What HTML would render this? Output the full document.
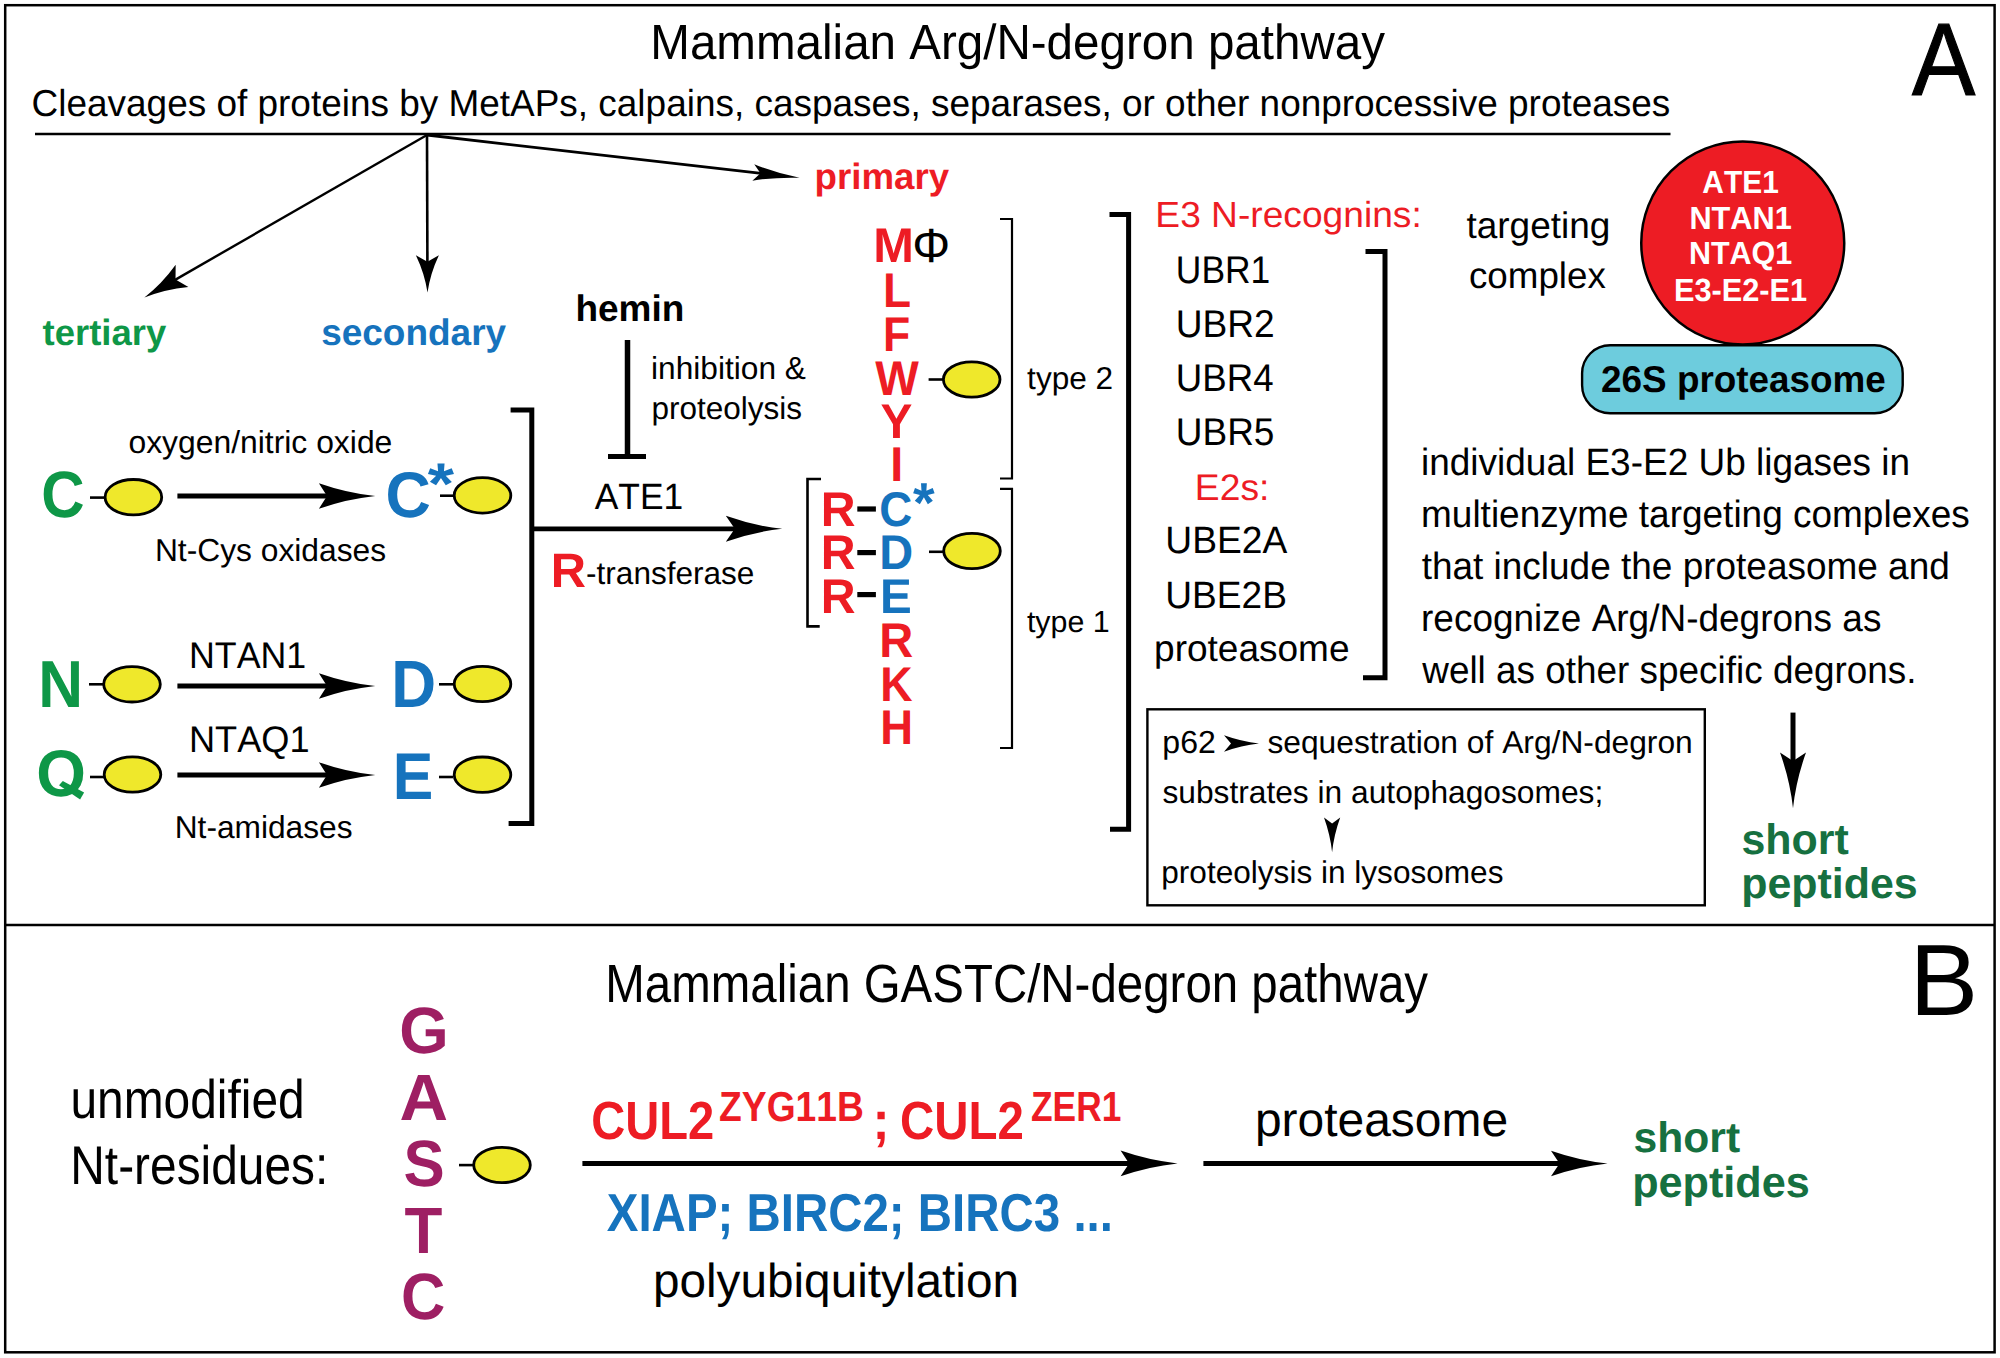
<!DOCTYPE html>
<html><head><meta charset="utf-8"><style>
html,body{margin:0;padding:0;background:#fff;}
svg{display:block;}
text{font-family:"Liberation Sans",sans-serif;font-kerning:none;text-rendering:geometricPrecision;}
</style></head><body>
<svg width="2000" height="1358" viewBox="0 0 2000 1358">
<rect width="2000" height="1358" fill="#fff"/>
<rect x="5.2" y="5.2" width="1989.4" height="1347.1" fill="none" stroke="#000" stroke-width="2.5"/>
<line x1="5" y1="925" x2="1995" y2="925" stroke="#000" stroke-width="2.5"/>
<text transform="translate(650.30 59.10) scale(0.9627 1)" font-size="49.40" font-weight="400" fill="#000">Mammalian Arg/N-degron pathway</text>
<text transform="translate(1911.91 94.80) scale(0.9219 1)" font-size="102.90" font-weight="400" fill="#000" stroke="#000" stroke-width="1.2">A</text>
<text transform="translate(31.62 115.50) scale(0.9831 1)" font-size="37.60" font-weight="400" fill="#000">Cleavages of proteins by MetAPs, calpains, caspases, separases, or other nonprocessive proteases</text>
<line x1="35" y1="134" x2="1670.5" y2="134" stroke="#000" stroke-width="2.6"/>
<line x1="427" y1="135" x2="172.92" y2="281.10" stroke="#000" stroke-width="2.4"/>
<path d="M144.40,297.50 Q161.75,284.14 175.67,264.81 L175.52,279.60 L188.38,286.92 Q164.67,289.23 144.40,297.50 Z" fill="#000"/>
<line x1="427" y1="135" x2="427.41" y2="264.70" stroke="#000" stroke-width="2.6"/>
<path d="M427.50,292.60 Q424.80,273.91 415.88,255.24 L427.40,261.70 L438.88,255.16 Q430.09,273.89 427.50,292.60 Z" fill="#000"/>
<line x1="427" y1="135" x2="763.44" y2="173.65" stroke="#000" stroke-width="2.8"/>
<path d="M799.60,177.80 Q776.24,177.01 752.37,180.63 L760.46,173.30 L754.24,164.34 Q776.67,173.27 799.60,177.80 Z" fill="#000"/>
<text x="814.58" y="188.75" font-size="36.70" font-weight="700" fill="#ED1C24">primary</text>
<text x="42.55" y="345.00" font-size="36.47" font-weight="700" fill="#0E9747">tertiary</text>
<text x="321.20" y="345.00" font-size="36.98" font-weight="700" fill="#1673BD">secondary</text>
<text x="575.42" y="321.30" font-size="36.97" font-weight="700" fill="#000">hemin</text>
<text x="651.08" y="378.70" font-size="31.67" font-weight="400" fill="#000">inhibition &amp;</text>
<text x="651.47" y="418.50" font-size="31.52" font-weight="400" fill="#000">proteolysis</text>
<line x1="627.5" y1="340" x2="627.5" y2="456.5" stroke="#000" stroke-width="5.5"/>
<line x1="608" y1="456.5" x2="646" y2="456.5" stroke="#000" stroke-width="5"/>
<text x="128.46" y="453.20" font-size="31.86" font-weight="400" fill="#000">oxygen/nitric oxide</text>
<text x="154.89" y="560.70" font-size="31.77" font-weight="400" fill="#000">Nt-Cys oxidases</text>
<text transform="translate(188.97 668.10) scale(0.9669 1)" font-size="37.00" font-weight="400" fill="#000">NTAN1</text>
<text transform="translate(188.93 751.50) scale(0.9779 1)" font-size="37.00" font-weight="400" fill="#000">NTAQ1</text>
<text x="174.70" y="838.30" font-size="31.70" font-weight="400" fill="#000">Nt-amidases</text>
<text transform="translate(41.14 517.46) scale(0.9126 1)" font-size="65.70" font-weight="700" fill="#0E9747">C</text>
<text transform="translate(38.15 707.00) scale(0.9350 1)" font-size="66.40" font-weight="700" fill="#0E9747">N</text>
<text transform="translate(36.18 795.90) scale(0.9682 1)" font-size="66.00" font-weight="700" fill="#0E9747">O</text>
<polygon points="62.8,780.9 84.1,792.5 80.1,799.6 59.0,785.2" fill="#0E9747"/>
<text transform="translate(385.43 516.67) scale(0.9722 1)" font-size="64.50" font-weight="700" fill="#1673BD">C</text>
<text transform="translate(427.80 503.64) scale(1.1439 1)" font-size="59.00" font-weight="700" fill="#1673BD">*</text>
<text transform="translate(391.14 707.00) scale(0.9300 1)" font-size="66.80" font-weight="700" fill="#1673BD">D</text>
<text transform="translate(392.83 798.60) scale(0.9209 1)" font-size="66.00" font-weight="700" fill="#1673BD">E</text>
<line x1="90" y1="497.6" x2="104" y2="497.6" stroke="#000" stroke-width="2.6"/>
<ellipse cx="133.4" cy="497.2" rx="28.3" ry="17.7" fill="#EFE82B" stroke="#000" stroke-width="2.8"/>
<line x1="440" y1="495.7" x2="454" y2="495.7" stroke="#000" stroke-width="2.6"/>
<ellipse cx="482.5" cy="495.4" rx="28.3" ry="17.7" fill="#EFE82B" stroke="#000" stroke-width="2.8"/>
<line x1="89" y1="684.3" x2="103" y2="684.3" stroke="#000" stroke-width="2.6"/>
<ellipse cx="132" cy="684.3" rx="28.3" ry="17.7" fill="#EFE82B" stroke="#000" stroke-width="2.8"/>
<line x1="439" y1="684.3" x2="453" y2="684.3" stroke="#000" stroke-width="2.6"/>
<ellipse cx="482.5" cy="684" rx="28.3" ry="17.7" fill="#EFE82B" stroke="#000" stroke-width="2.8"/>
<line x1="90" y1="777" x2="104" y2="777" stroke="#000" stroke-width="2.6"/>
<ellipse cx="132.5" cy="774.5" rx="28.3" ry="17.7" fill="#EFE82B" stroke="#000" stroke-width="2.8"/>
<line x1="439" y1="777" x2="453" y2="777" stroke="#000" stroke-width="2.6"/>
<ellipse cx="482.5" cy="774.7" rx="28.3" ry="17.7" fill="#EFE82B" stroke="#000" stroke-width="2.8"/>
<line x1="177.4" y1="496" x2="330.00" y2="496.00" stroke="#000" stroke-width="5"/>
<path d="M375.30,496.00 Q347.10,498.94 318.90,508.80 L327.00,496.00 L318.90,483.20 Q347.10,493.06 375.30,496.00 Z" fill="#000"/>
<line x1="177.4" y1="686" x2="330.00" y2="686.00" stroke="#000" stroke-width="5"/>
<path d="M375.30,686.00 Q347.10,688.94 318.90,698.80 L327.00,686.00 L318.90,673.20 Q347.10,683.06 375.30,686.00 Z" fill="#000"/>
<line x1="177.4" y1="775" x2="330.00" y2="775.00" stroke="#000" stroke-width="5"/>
<path d="M375.30,775.00 Q347.10,777.94 318.90,787.80 L327.00,775.00 L318.90,762.20 Q347.10,772.06 375.30,775.00 Z" fill="#000"/>
<path d="M510.6,410 H531.8 V823.4 H508.6" fill="none" stroke="#000" stroke-width="5"/>
<line x1="531.8" y1="528.8" x2="737.80" y2="528.80" stroke="#000" stroke-width="4.8"/>
<path d="M782.20,528.80 Q754.00,531.79 725.80,541.80 L734.80,528.80 L725.80,515.80 Q754.00,525.81 782.20,528.80 Z" fill="#000"/>
<text transform="translate(594.73 509.10) scale(0.9668 1)" font-size="36.60" font-weight="400" fill="#000">ATE1</text>
<text transform="translate(550.73 587.00) scale(1.0111 1)" font-size="48.30" font-weight="700" fill="#ED1C24">R</text>
<text x="586.10" y="584.30" font-size="31.54" font-weight="400" fill="#000">-transferase</text>
<text x="873.35" y="262.00" font-size="48.80" font-weight="700" fill="#ED1C24">M</text>
<text transform="translate(882.92 307.10) scale(0.9424 1)" font-size="48.80" font-weight="700" fill="#ED1C24">L</text>
<text transform="translate(883.02 350.70) scale(0.9129 1)" font-size="48.80" font-weight="700" fill="#ED1C24">F</text>
<text transform="translate(875.15 394.80) scale(0.9464 1)" font-size="48.80" font-weight="700" fill="#ED1C24">W</text>
<text transform="translate(880.48 438.20) scale(0.9797 1)" font-size="48.80" font-weight="700" fill="#ED1C24">Y</text>
<text transform="translate(890.29 481.30) scale(0.9532 1)" font-size="48.80" font-weight="700" fill="#ED1C24">I</text>
<text transform="translate(879.32 526.00) scale(0.9371 1)" font-size="48.80" font-weight="700" fill="#1673BD">C</text>
<text transform="translate(879.16 569.40) scale(0.9623 1)" font-size="48.80" font-weight="700" fill="#1673BD">D</text>
<text transform="translate(880.12 612.70) scale(0.9752 1)" font-size="48.80" font-weight="700" fill="#1673BD">E</text>
<text transform="translate(879.15 657.00) scale(0.9652 1)" font-size="48.80" font-weight="700" fill="#ED1C24">R</text>
<text transform="translate(880.31 700.80) scale(0.9167 1)" font-size="48.80" font-weight="700" fill="#ED1C24">K</text>
<text transform="translate(880.26 743.50) scale(0.9307 1)" font-size="48.80" font-weight="700" fill="#ED1C24">H</text>
<text transform="translate(912.29 261.86) scale(0.9898 1)" font-size="48.00" font-weight="400" fill="#000">Φ</text>
<text transform="translate(913.04 522.02) scale(0.9849 1)" font-size="56.40" font-weight="700" fill="#1673BD">*</text>
<text transform="translate(820.68 526.00) scale(0.9878 1)" font-size="48.80" font-weight="700" fill="#ED1C24">R</text>
<text transform="translate(820.68 569.40) scale(0.9878 1)" font-size="48.80" font-weight="700" fill="#ED1C24">R</text>
<text transform="translate(820.68 612.70) scale(0.9878 1)" font-size="48.80" font-weight="700" fill="#ED1C24">R</text>
<line x1="857.3" y1="509" x2="875.9" y2="509" stroke="#000" stroke-width="5.2"/>
<line x1="857.3" y1="552.6" x2="875.9" y2="552.6" stroke="#000" stroke-width="5.2"/>
<line x1="857.3" y1="594.6" x2="875.9" y2="594.6" stroke="#000" stroke-width="5.2"/>
<path d="M821,479 H807.5 V626.4 H819.7" fill="none" stroke="#000" stroke-width="2.6"/>
<line x1="928.6" y1="379.5" x2="943" y2="379.5" stroke="#000" stroke-width="2.6"/>
<ellipse cx="971.7" cy="379.5" rx="28.3" ry="17.7" fill="#EFE82B" stroke="#000" stroke-width="2.8"/>
<line x1="929" y1="551.8" x2="943" y2="551.8" stroke="#000" stroke-width="2.6"/>
<ellipse cx="972" cy="551" rx="28.3" ry="17.7" fill="#EFE82B" stroke="#000" stroke-width="2.8"/>
<path d="M1000,219 H1012 V478.5 H1000" fill="none" stroke="#000" stroke-width="2.2"/>
<path d="M1000,488.8 H1012 V748 H1000" fill="none" stroke="#000" stroke-width="2.2"/>
<text x="1027.12" y="388.50" font-size="31.59" font-weight="400" fill="#000">type 2</text>
<text x="1026.94" y="631.60" font-size="30.37" font-weight="400" fill="#000">type 1</text>
<path d="M1109.5,214.5 H1128.6 V829.2 H1110" fill="none" stroke="#000" stroke-width="5"/>
<text transform="translate(1155.35 226.70) scale(1.0237 1)" font-size="36.30" font-weight="400" fill="#ED1C24">E3 N-recognins:</text>
<text transform="translate(1175.87 282.90) scale(0.9150 1)" font-size="38.70" font-weight="400" fill="#000">UBR1</text>
<text transform="translate(1175.74 337.30) scale(0.9593 1)" font-size="38.70" font-weight="400" fill="#000">UBR2</text>
<text transform="translate(1175.77 390.90) scale(0.9474 1)" font-size="38.70" font-weight="400" fill="#000">UBR4</text>
<text transform="translate(1175.75 444.80) scale(0.9562 1)" font-size="38.70" font-weight="400" fill="#000">UBR5</text>
<text transform="translate(1194.84 499.70) scale(1.0071 1)" font-size="37.00" font-weight="400" fill="#ED1C24">E2s:</text>
<text transform="translate(1165.33 553.20) scale(0.9786 1)" font-size="38.00" font-weight="400" fill="#000">UBE2A</text>
<text transform="translate(1165.34 607.50) scale(0.9760 1)" font-size="38.00" font-weight="400" fill="#000">UBE2B</text>
<text x="1154.11" y="661.00" font-size="37.01" font-weight="400" fill="#000">proteasome</text>
<path d="M1365.5,251.4 H1385 V677.8 H1363" fill="none" stroke="#000" stroke-width="5"/>
<text x="1466.44" y="238.00" font-size="36.99" font-weight="400" fill="#000">targeting</text>
<text x="1468.94" y="287.50" font-size="36.78" font-weight="400" fill="#000">complex</text>
<circle cx="1742.75" cy="243" r="101.5" fill="#ED1C24" stroke="#000" stroke-width="2.5"/>
<text transform="translate(1702.35 192.60) scale(0.9321 1)" font-size="32.10" font-weight="700" fill="#fff">ATE1</text>
<text transform="translate(1689.44 228.50) scale(0.9571 1)" font-size="32.10" font-weight="700" fill="#fff">NTAN1</text>
<text transform="translate(1688.96 264.40) scale(0.9503 1)" font-size="32.10" font-weight="700" fill="#fff">NTAQ1</text>
<text transform="translate(1673.94 300.80) scale(0.9579 1)" font-size="32.10" font-weight="700" fill="#fff">E3-E2-E1</text>
<rect x="1582.1" y="345.3" width="320.6" height="68" rx="28" ry="28" fill="#6DCCDD" stroke="#000" stroke-width="2.4"/>
<text transform="translate(1601.12 392.20) scale(0.9908 1)" font-size="37.20" font-weight="700" fill="#000">26S proteasome</text>
<text transform="translate(1421.03 475.00) scale(0.9709 1)" font-size="38.10" font-weight="400" fill="#000">individual E3-E2 Ub ligases in</text>
<text transform="translate(1421.04 526.80) scale(0.9710 1)" font-size="38.10" font-weight="400" fill="#000">multienzyme targeting complexes</text>
<text transform="translate(1421.64 579.00) scale(0.9708 1)" font-size="38.10" font-weight="400" fill="#000">that include the proteasome and</text>
<text transform="translate(1421.04 631.00) scale(0.9710 1)" font-size="38.10" font-weight="400" fill="#000">recognize Arg/N-degrons as</text>
<text transform="translate(1422.25 683.20) scale(0.9689 1)" font-size="38.10" font-weight="400" fill="#000">well as other specific degrons.</text>
<rect x="1147.4" y="709.3" width="557.4" height="196" fill="none" stroke="#000" stroke-width="2.4"/>
<text x="1162.33" y="752.80" font-size="32.05" font-weight="400" fill="#000">p62</text>
<path d="M1259.00,743.50 Q1241.50,745.39 1224.00,751.70 L1231.00,743.50 L1224.00,735.30 Q1241.50,741.61 1259.00,743.50 Z" fill="#000"/>
<text x="1267.42" y="752.80" font-size="31.76" font-weight="400" fill="#000">sequestration of Arg/N-degron</text>
<text x="1162.42" y="802.50" font-size="31.73" font-weight="400" fill="#000">substrates in autophagosomes;</text>
<path d="M1332.10,852.20 Q1330.24,834.85 1324.00,817.50 L1332.10,823.50 L1340.20,817.50 Q1333.96,834.85 1332.10,852.20 Z" fill="#000"/>
<text x="1161.26" y="883.00" font-size="31.59" font-weight="400" fill="#000">proteolysis in lysosomes</text>
<line x1="1793" y1="712.6" x2="1793.00" y2="764.10" stroke="#000" stroke-width="5"/>
<path d="M1793.00,808.30 Q1790.01,780.45 1780.00,752.60 L1793.00,761.10 L1806.00,752.60 Q1795.99,780.45 1793.00,808.30 Z" fill="#000"/>
<text x="1741.49" y="854.30" font-size="42.93" font-weight="700" fill="#167040">short</text>
<text x="1741.17" y="898.40" font-size="42.95" font-weight="700" fill="#167040">peptides</text>
<text transform="translate(605.31 1001.60) scale(0.8820 1)" font-size="53.80" font-weight="400" fill="#000">Mammalian GASTC/N-degron pathway</text>
<text transform="translate(1909.55 1014.80) scale(1.0164 1)" font-size="101.30" font-weight="400" fill="#000">B</text>
<text transform="translate(70.39 1117.60) scale(0.8804 1)" font-size="54.40" font-weight="400" fill="#000">unmodified</text>
<text transform="translate(70.27 1184.10) scale(0.8801 1)" font-size="54.40" font-weight="400" fill="#000">Nt-residues:</text>
<text transform="translate(399.19 1053.06) scale(0.9706 1)" font-size="65.50" font-weight="700" fill="#9E1F63">G</text>
<text transform="translate(399.43 1119.50) scale(1.0263 1)" font-size="65.50" font-weight="700" fill="#9E1F63">A</text>
<text transform="translate(403.52 1186.16) scale(0.9429 1)" font-size="65.50" font-weight="700" fill="#9E1F63">S</text>
<text transform="translate(404.60 1252.60) scale(0.9463 1)" font-size="65.50" font-weight="700" fill="#9E1F63">T</text>
<text transform="translate(401.08 1318.56) scale(0.9364 1)" font-size="65.50" font-weight="700" fill="#9E1F63">C</text>
<line x1="459" y1="1165.1" x2="473" y2="1165.1" stroke="#000" stroke-width="2.6"/>
<ellipse cx="502" cy="1165" rx="28.3" ry="17.7" fill="#EFE82B" stroke="#000" stroke-width="2.8"/>
<text transform="translate(591.17 1138.90) scale(0.8764 1)" font-size="53.80" font-weight="700" fill="#ED1C24">CUL2</text>
<text transform="translate(719.09 1120.80) scale(0.8862 1)" font-size="42.00" font-weight="700" fill="#ED1C24">ZYG11B</text>
<text transform="translate(872.52 1138.90) scale(0.9517 1)" font-size="53.80" font-weight="700" fill="#ED1C24">;</text>
<text transform="translate(899.95 1138.90) scale(0.8815 1)" font-size="53.80" font-weight="700" fill="#ED1C24">CUL2</text>
<text transform="translate(1031.05 1120.80) scale(0.8405 1)" font-size="42.00" font-weight="700" fill="#ED1C24">ZER1</text>
<line x1="582.4" y1="1163.4" x2="1132.10" y2="1163.40" stroke="#000" stroke-width="5"/>
<path d="M1177.60,1163.40 Q1149.10,1166.34 1120.60,1176.20 L1129.10,1163.40 L1120.60,1150.60 Q1149.10,1160.46 1177.60,1163.40 Z" fill="#000"/>
<text transform="translate(606.78 1231.00) scale(0.8887 1)" font-size="53.40" font-weight="700" fill="#1673BD">XIAP; BIRC2; BIRC3 ...</text>
<text x="652.92" y="1297.00" font-size="47.73" font-weight="400" fill="#000">polyubiquitylation</text>
<line x1="1203.4" y1="1163.5" x2="1562.50" y2="1163.50" stroke="#000" stroke-width="5"/>
<path d="M1607.60,1163.50 Q1579.30,1166.44 1551.00,1176.30 L1559.50,1163.50 L1551.00,1150.70 Q1579.30,1160.56 1607.60,1163.50 Z" fill="#000"/>
<text x="1254.91" y="1136.20" font-size="47.95" font-weight="400" fill="#000">proteasome</text>
<text x="1633.50" y="1152.20" font-size="42.65" font-weight="700" fill="#167040">short</text>
<text x="1632.15" y="1197.00" font-size="43.20" font-weight="700" fill="#167040">peptides</text>
</svg></body></html>
